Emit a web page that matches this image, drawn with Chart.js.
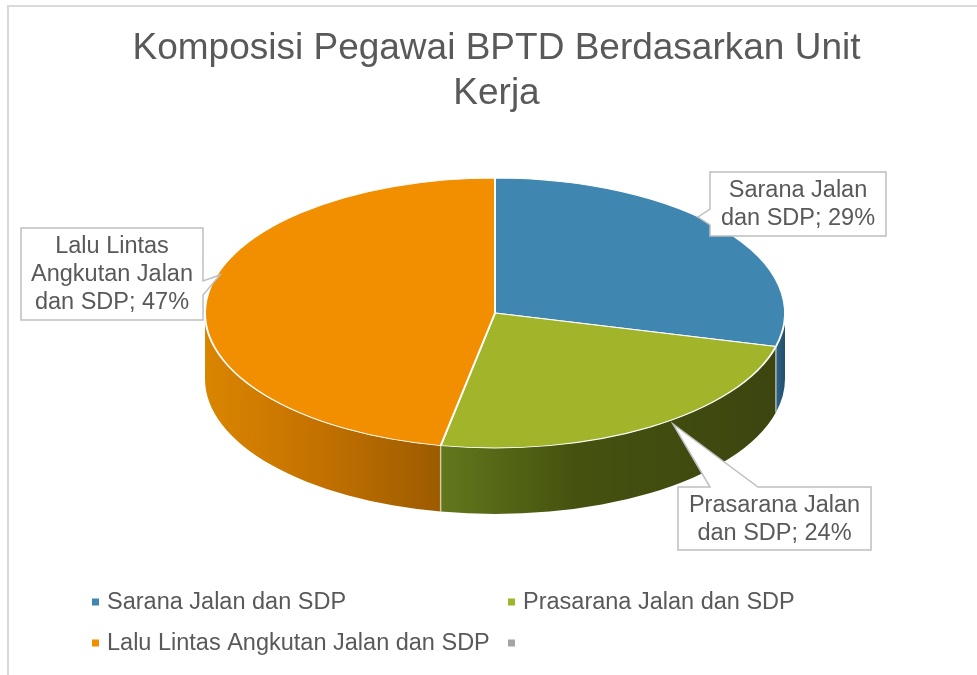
<!DOCTYPE html>
<html>
<head>
<meta charset="utf-8">
<script src="https://cdn.jsdelivr.net/npm/chart.js@4.4.1/dist/chart.umd.min.js"></script>
<style>
  html, body { margin: 0; padding: 0; background: #fff; }
  canvas { display: block; }
</style>
</head>
<body>
<canvas id="myChart" width="977" height="675"></canvas>
<script>
const labels = [
    'Sarana Jalan dan SDP',
    'Prasarana Jalan dan SDP',
    'Lalu Lintas Angkutan Jalan dan SDP',
    ''
]
const values = [29, 24, 47, 0]
const titleLines = ['Komposisi Pegawai BPTD Berdasarkan Unit', 'Kerja']

const colors = ['#3f86b1', '#a2b42a', '#f28f00', '#a5a5a5']
// side wall shading per slice, left -> right
const sideStops = [
    [[0, '#2d6387'], [1, '#234f6c']],
    [[0, '#62771c'], [0.4, '#45520f'], [1, '#3c4510']],
    [[0, '#da8500'], [0.5, '#c27100'], [1, '#9c5b00']],
    [[0, '#777777'], [1, '#555555']]
]

const FONT = '"Liberation Sans", Arial, sans-serif'
const textColor = '#595959'

// the flat pie is squashed into a tilted disc here
const disc = { cx: 495, cy: 313, tilt: 135 / 290, depth: 66 }

// callout boxes for the data labels (x0, y0, x1, y1) and their pointers
const callouts = [
    { box: [710, 172, 886, 236], wedge: { side: 'left', from: 209, to: 225, tip: [698, 217] } },
    { box: [678, 487, 871, 550], wedge: { side: 'top', from: 710, to: 758, tip: [673, 424] } },
    { box: [21, 228, 203, 320], wedge: { side: 'right', from: 281, to: 295, tip: [220, 275] } }
]

function wrap(ctx, text, maxW) {
    const words = text.split(' ')
    const lines = []
    let line = ''
    words.forEach(w => {
        const test = line ? line + ' ' + w : w
        if (line && ctx.measureText(test).width > maxW) {
            lines.push(line)
            line = w
        } else {
            line = test
        }
    })
    if (line) lines.push(line)
    return lines
}

function calloutPath(ctx, c) {
    const [x0, y0, x1, y1] = c.box
    const w = c.wedge
    ctx.beginPath()
    ctx.moveTo(x0, y0)
    if (w.side === 'top') {
        ctx.lineTo(w.from, y0)
        ctx.lineTo(w.tip[0], w.tip[1])
        ctx.lineTo(w.to, y0)
    }
    ctx.lineTo(x1, y0)
    if (w.side === 'right') {
        ctx.lineTo(x1, w.from)
        ctx.lineTo(w.tip[0], w.tip[1])
        ctx.lineTo(x1, w.to)
    }
    ctx.lineTo(x1, y1)
    ctx.lineTo(x0, y1)
    if (w.side === 'left') {
        ctx.lineTo(x0, w.to)
        ctx.lineTo(w.tip[0], w.tip[1])
        ctx.lineTo(x0, w.from)
    }
    ctx.closePath()
}

const frame = {
    id: 'frame',
    beforeDraw(chart) {
        const ctx = chart.ctx
        ctx.save()
        ctx.strokeStyle = '#d9d9d9'
        ctx.lineWidth = 2
        ctx.beginPath()
        ctx.moveTo(8, 700)
        ctx.lineTo(8, 6)
        ctx.lineTo(990, 6)
        ctx.stroke()
        ctx.restore()
    }
}

const tilt3d = {
    id: 'tilt3d',
    beforeDatasetsDraw(chart) {
        const ctx = chart.ctx
        const arcs = chart.getDatasetMeta(0).data
        const { cx, cy, tilt, depth } = disc
        ctx.save()
        // side walls, only the front half is visible
        arcs.forEach((arc, i) => {
            const R = arc.outerRadius, r = R * tilt
            const a0 = Math.max(arc.startAngle, 0)
            const a1 = Math.min(arc.endAngle, Math.PI)
            if (arc.circumference === 0 || a1 <= a0) return
            const xL = cx + R * Math.cos(a1), xR = cx + R * Math.cos(a0)
            const g = ctx.createLinearGradient(xL, 0, xR, 0)
            sideStops[i].forEach(s => g.addColorStop(s[0], s[1]))
            ctx.beginPath()
            ctx.ellipse(cx, cy, R, r, 0, a0, a1)
            ctx.ellipse(cx, cy + depth, R, r, 0, a1, a0, true)
            ctx.closePath()
            ctx.fillStyle = g
            ctx.fill()
        })
        // light seams between wall pieces
        ctx.strokeStyle = 'rgba(255,255,255,0.55)'
        ctx.lineWidth = 1.5
        arcs.forEach(arc => {
            const a = arc.endAngle
            if (arc.circumference === 0 || a <= 0 || a >= Math.PI) return
            const R = arc.outerRadius
            const x = cx + R * Math.cos(a), y = cy + R * tilt * Math.sin(a)
            ctx.beginPath()
            ctx.moveTo(x, y)
            ctx.lineTo(x, y + depth)
            ctx.stroke()
        })
        ctx.restore()
        // top face: the library's own arcs, squashed
        ctx.save()
        ctx.translate(cx, cy)
        ctx.scale(1, tilt)
        ctx.translate(-arcs[0].x, -arcs[0].y)
    },
    afterDatasetsDraw(chart) {
        chart.ctx.restore()
    }
}

const labelsAndLegend = {
    id: 'labelsAndLegend',
    afterDraw(chart) {
        const ctx = chart.ctx
        const ds = chart.data.datasets[0]
        const total = ds.data.reduce((a, b) => a + b, 0)
        ctx.save()
        ctx.font = '23.5px ' + FONT
        ctx.textBaseline = 'middle'

        // data label callouts
        callouts.forEach((c, i) => {
            const pct = Math.round(ds.data[i] / total * 100)
            const text = chart.data.labels[i] + '; ' + pct + '%'
            calloutPath(ctx, c)
            ctx.fillStyle = '#fff'
            ctx.fill()
            ctx.strokeStyle = '#bfbfbf'
            ctx.lineWidth = 1.5
            ctx.stroke()
            const lines = wrap(ctx, text, 175)
            const [x0, y0, x1, y1] = c.box
            const mx = (x0 + x1) / 2, my = (y0 + y1) / 2 + 1
            ctx.fillStyle = textColor
            ctx.textAlign = 'center'
            lines.forEach((l, k) => {
                ctx.fillText(l, mx, my + (k - (lines.length - 1) / 2) * 28)
            })
        })

        // legend, two columns
        ctx.textAlign = 'left'
        const colX = [92, 508]
        const rowY = [602, 643]
        chart.data.labels.forEach((lab, i) => {
            const x = colX[i % 2], y = rowY[Math.floor(i / 2)]
            ctx.fillStyle = ds.backgroundColor[i]
            ctx.fillRect(x, y - 3.5, 7, 7)
            ctx.fillStyle = textColor
            ctx.fillText(lab, x + 15, y + 1)
        })
        ctx.restore()
    }
}

const data = {
    labels,
    datasets: [{
        data: values,
        backgroundColor: colors,
        borderColor: '#ffffff',
        borderWidth: 2,
        radius: 290,
        clip: false
    }]
}

const config = {
    type: 'pie',
    data: data,
    options: {
        responsive: false,
        animation: false,
        events: [],
        layout: { padding: { left: 16 } },
        plugins: {
            legend: { display: false },
            tooltip: { enabled: false },
            title: {
                display: true,
                text: titleLines,
                color: textColor,
                font: { family: FONT, size: 37, weight: 'normal', lineHeight: 1.2 },
                padding: { top: 27, bottom: 10 }
            }
        }
    },
    plugins: [frame, tilt3d, labelsAndLegend]
}

const myChart = new Chart(document.getElementById('myChart').getContext('2d'), config)
</script>
</body>
</html>
